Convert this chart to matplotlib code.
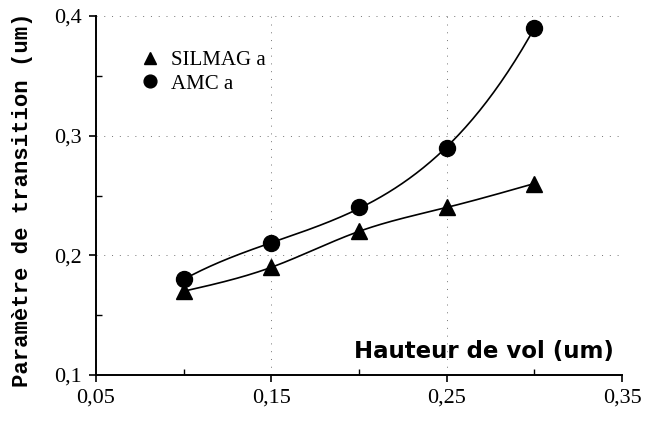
import numpy as np
import matplotlib
matplotlib.use('Agg')
from matplotlib import pyplot as plt

# Hauteur de vol (um) and transition parameter (um) for both media
hauteur = [0.10, 0.15, 0.20, 0.25, 0.30]
silmag_a = [0.17, 0.19, 0.22, 0.24, 0.26]
amc_a = [0.18, 0.21, 0.24, 0.29, 0.39]

x_ticks = [0.05, 0.15, 0.25, 0.35]
x_tick_labels = ['0,05', '0,15', '0,25', '0,35']
y_ticks = [0.1, 0.2, 0.3, 0.4]
y_tick_labels = ['0,1', '0,2', '0,3', '0,4']


def natural_spline(x, y, n=200):
	x = np.asarray(x, float)
	y = np.asarray(y, float)
	h = np.diff(x)
	k = len(x)
	A = np.zeros((k, k))
	b = np.zeros(k)
	A[0, 0] = A[-1, -1] = 1
	for i in range(1, k - 1):
		A[i, i - 1] = h[i - 1]
		A[i, i] = 2 * (h[i - 1] + h[i])
		A[i, i + 1] = h[i]
		b[i] = 6 * ((y[i + 1] - y[i]) / h[i] - (y[i] - y[i - 1]) / h[i - 1])
	m = np.linalg.solve(A, b)
	xs = np.linspace(x[0], x[-1], n)
	idx = np.clip(np.searchsorted(x, xs) - 1, 0, k - 2)
	t0 = x[idx]; t1 = x[idx + 1]; hh = t1 - xs; ll = xs - t0; hi = h[idx]
	ys = (m[idx] * hh ** 3 + m[idx + 1] * ll ** 3) / (6 * hi) \
		+ (y[idx] / hi - m[idx] * hi / 6) * hh + (y[idx + 1] / hi - m[idx + 1] * hi / 6) * ll
	return xs, ys


def cubic_fit(x, y, n=200):
	coef = np.polyfit(x, y, 3)
	xs = np.linspace(min(x), max(x), n)
	return xs, np.polyval(coef, xs)


fig = plt.figure(figsize=(6.46, 4.21), dpi=100)
ax = fig.add_axes([96 / 646, 1 - 375 / 421, 526 / 646, 359 / 421])

serif = 'Liberation Serif'

# trend curves
xs, ys = natural_spline(hauteur, silmag_a)
ax.plot(xs, ys, color='black', lw=1.2, zorder=2)
xs, ys = cubic_fit(hauteur, amc_a)
ax.plot(xs, ys, color='black', lw=1.2, zorder=2)

# measured points
ax.plot(hauteur, silmag_a, linestyle='none', marker='^', ms=11, color='black', label='SILMAG a', zorder=3)
ax.plot(hauteur, amc_a, linestyle='none', marker='o', ms=11.5, color='black', label='AMC a', zorder=3)

ax.set_xlim(0.05, 0.35)
ax.set_ylim(0.1, 0.4)
ax.set_xticks(x_ticks)
ax.set_xticklabels(x_tick_labels, family=serif, fontsize=16)
ax.set_yticks(y_ticks)
ax.set_yticklabels(y_tick_labels, family=serif, fontsize=16)
ax.set_xticks([0.10, 0.20, 0.30], minor=True)
ax.set_yticks([0.15, 0.25, 0.35], minor=True)
ax.tick_params(which='major', direction='out', length=5, width=1.2, pad=5)
ax.tick_params(which='minor', direction='in', length=4, width=1.0)

ax.grid(which='major', linestyle=(0, (1, 7)), color='black', linewidth=0.7, alpha=0.55)

for side in ['top', 'right']:
	ax.spines[side].set_visible(False)
for side in ['left', 'bottom']:
	ax.spines[side].set_linewidth(1.4)

fig.text(23 / 646, 1 - 200 / 421, 'Paramètre de transition (um)', rotation=90,
		 ha='center', va='center', family='Liberation Mono', fontsize=16, fontweight='bold')
ax.text(0.985, 0.065, 'Hauteur de vol (um)', transform=ax.transAxes, ha='right', va='center',
		family='DejaVu Sans', fontsize=16.5, fontweight='bold')

ax.legend(loc='upper left', bbox_to_anchor=(0.055, 0.945), frameon=False,
		  prop={'family': serif, 'size': 15}, handletextpad=0.5, labelspacing=0.2,
		  handlelength=1.0, markerscale=0.8, borderpad=0.2)

fig.savefig('out.png', dpi=100)
